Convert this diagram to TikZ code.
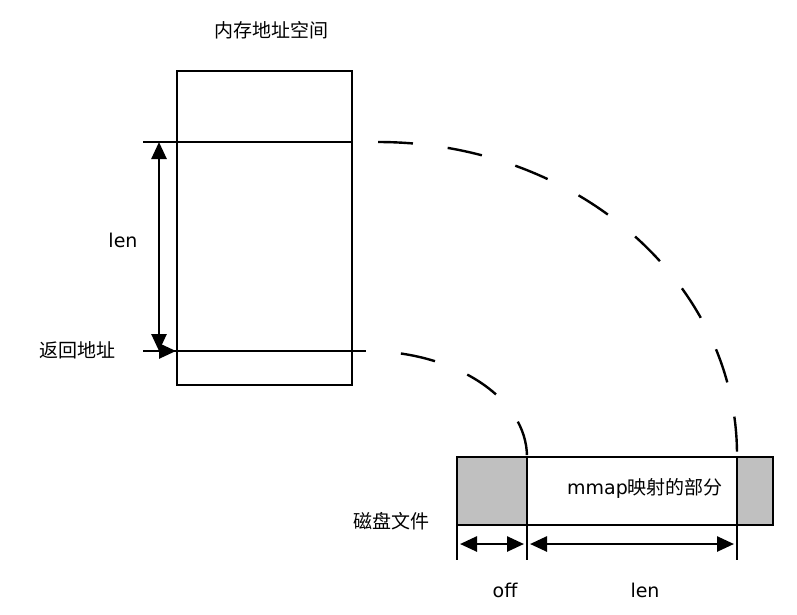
\documentclass[tikz,border=0pt]{standalone}
\usepackage{fontspec}
\setmainfont{DejaVu Sans}
\newfontfamily\cjk{Noto Sans CJK SC}
\usetikzlibrary{arrows.meta,positioning,calc}
\definecolor{filegray}{RGB}{192,192,192}

\begin{document}
\begin{tikzpicture}[x=1pt, y=-1pt,
  >={Triangle[length=17pt,width=15pt]},
  box/.style={draw, line width=2.6pt, inner sep=0pt},
  rule/.style={line width=2.6pt},
  dim/.style={<->, line width=2.6pt},
  lbl/.style={font=\fontsize{19}{22}\selectfont, inner sep=0pt},
  arcd/.style={line width=2.4pt, dash pattern=on 35pt off 35pt}]
\useasboundingbox (0,0) rectangle (797,614);
% memory side
\node[box, minimum width=175pt, minimum height=314pt] (mem) at (264.5,228) {};
\node[lbl] (memt) at (271,30) {\cjk 内存地址空间};
\coordinate (top0) at (143,142); \coordinate (top1) at (352,142);
\coordinate (ret0) at (143,351); \coordinate (ret1) at (366,351);
\coordinate (retp) at (176,351);
\coordinate (la) at (159,142); \coordinate (lb) at (159,351);
\draw[rule] (top0) -- (top1);
\draw[rule] (ret0) -- (ret1);
\draw[->, rule] (ret0) -- (retp);
\draw[dim] (la) -- (lb);
\node[lbl] (lenm) at (123,240) {len};
\node[lbl] (retl) at (77,350) {\cjk 返回地址};
% disk file
\coordinate (f0) at (457,457); \coordinate (f1) at (527,457);
\coordinate (f2) at (737,457); \coordinate (f3) at (773,525);
\fill[filegray] (f0) rectangle (527,525);
\fill[filegray] (f2) rectangle (f3);
\node[box, minimum width=316pt, minimum height=68pt] (file) at (615,491) {};
\node[lbl] (part) at (645,488) {mmap\cjk 映射的部分};
\node[lbl] (filel) at (391,521) {\cjk 磁盘文件};
\coordinate (e0) at (457,560); \coordinate (e1) at (527,560); \coordinate (e2) at (737,560);
\draw[rule] (457,525) -- (e0);
\draw[rule] (f1) -- (e1);
\draw[rule] (f2) -- (e2);
\draw[dim] (460,544) -- (524,544);
\draw[dim] (530,544) -- (734,544);
\node[lbl] (offl) at (505,590) {off};
\node[lbl] (lenf) at (645,590) {len};
% mapping arcs
\coordinate (a0) at (378,142);
\draw[arcd] (a0) arc[start angle=-90, end angle=0, x radius=359, y radius=313];
\draw[arcd, dash phase=35pt] (ret1) arc[start angle=-90, end angle=0, x radius=161, y radius=106];
\end{tikzpicture}
\end{document}
